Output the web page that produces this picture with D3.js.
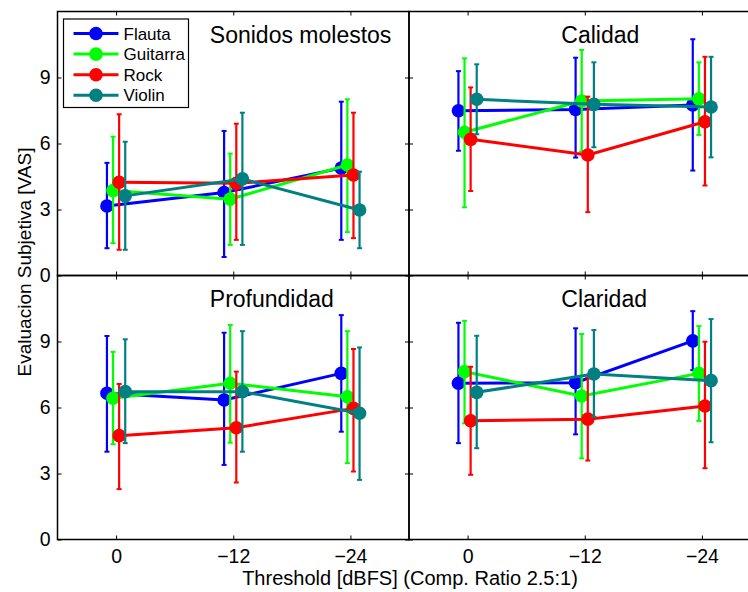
<!DOCTYPE html>
<html>
<head>
<meta charset="utf-8">
<script src="https://cdn.jsdelivr.net/npm/d3@7"></script>
<style>
  body { margin: 0; background: #fff; }
  text { font-family: "Liberation Sans", Arial, sans-serif; fill: #000; }
</style>
</head>
<body>
<div id="chart"></div>
<script>
// categories on the x axis (threshold dBFS)
const categories = ["0", "\u221212", "\u221224"];
const seriesNames = ["Flauta", "Guitarra", "Rock", "Violin"];
const seriesColors = ["#0000ff", "#00ff00", "#ff0000", "#008080"];
const yTicks = [0, 3, 6, 9];

// Sonidos molestos: [Flauta, Guitarra, Rock, Violin] x [0, -12, -24]
const sonidosMean = [[3.16, 3.77, 4.88], [3.86, 3.47, 5.02], [4.24, 4.19, 4.57], [3.62, 4.39, 2.98]];
const sonidosLow  = [[1.24, 0.84, 1.62], [1.47, 1.39, 1.97], [1.17, 1.62, 1.70], [1.17, 1.39, 1.24]];
const sonidosHigh = [[5.12, 6.57, 7.90], [6.31, 5.54, 8.01], [7.33, 6.90, 7.40], [6.08, 7.40, 4.72]];

// Calidad
const calidadMean = [[7.49, 7.55, 7.75], [6.51, 7.93, 8.03], [6.19, 5.48, 6.99], [8.01, 7.78, 7.66]];
const calidadLow  = [[5.67, 5.36, 4.77], [3.10, 5.63, 6.39], [3.84, 2.88, 4.09], [6.42, 5.83, 5.37]];
const calidadHigh = [[9.29, 9.90, 10.74], [9.87, 10.25, 9.69], [8.55, 8.13, 9.94], [9.60, 9.69, 9.94]];

// Profundidad
const profMean = [[6.65, 6.34, 7.55], [6.42, 7.10, 6.49], [4.72, 5.08, 5.96], [6.72, 6.72, 5.74]];
const profLow  = [[3.99, 3.39, 4.90], [4.33, 4.40, 3.47], [2.29, 2.59, 3.09], [4.38, 3.99, 2.71]];
const profHigh = [[9.25, 9.40, 10.20], [8.53, 9.75, 9.47], [7.07, 7.63, 8.66], [9.10, 9.47, 8.73]];

// Claridad
const claridadMean = [[7.10, 7.13, 9.03], [7.63, 6.52, 7.55], [5.40, 5.47, 6.07], [6.69, 7.52, 7.22]];
const claridadLow  = [[4.38, 4.78, 7.70], [5.28, 3.69, 5.39], [2.94, 3.59, 3.24], [4.15, 5.58, 4.42]];
const claridadHigh = [[9.85, 9.60, 10.38], [9.94, 9.34, 9.70], [7.85, 7.37, 8.99], [9.26, 9.52, 10.02]];

const panels = [
    {title: "Sonidos molestos", col: 0, row: 0, mean: sonidosMean, low: sonidosLow, high: sonidosHigh},
    {title: "Calidad", col: 1, row: 0, mean: calidadMean, low: calidadLow, high: calidadHigh},
    {title: "Profundidad", col: 0, row: 1, mean: profMean, low: profLow, high: profHigh},
    {title: "Claridad", col: 1, row: 1, mean: claridadMean, low: claridadLow, high: claridadHigh}
];

const width = 748, height = 592;
const colRanges = [[57.5, 409], [409, 760.5]];
const rowRanges = [[275.5, 11.5], [539.5, 275.5]];
const offsets = [-0.078, -0.026, 0.026, 0.078];

const svg = d3.select("#chart").append("svg")
    .attr("width", width)
    .attr("height", height);

svg.append("rect").attr("width", width).attr("height", height).attr("fill", "#fff");

panels.forEach(p => {
    let x = d3.scaleLinear().domain([-0.5, 2.5]).range(colRanges[p.col]);
    let y = d3.scaleLinear().domain([0, 12]).range(rowRanges[p.row]);
    let g = svg.append("g");
    let idx = d3.range(categories.length);

    // axes with inward ticks on all four sides
    let left = d3.axisLeft(y).tickValues(yTicks).tickSizeInner(-4).tickSizeOuter(0).tickPadding(7);
    if (p.col !== 0) left.tickFormat("");
    g.append("g").attr("class", "axis").attr("transform", `translate(${x.range()[0]},0)`).call(left);

    let right = d3.axisRight(y).tickValues(yTicks).tickSizeInner(-4).tickSizeOuter(0).tickFormat("");
    g.append("g").attr("class", "axis").attr("transform", `translate(${x.range()[1]},0)`).call(right);

    let bottom = d3.axisBottom(x).tickValues(idx).tickSizeInner(-4).tickSizeOuter(0).tickPadding(10)
        .tickFormat(i => categories[i]);
    if (p.row !== 1) bottom.tickFormat("");
    g.append("g").attr("class", "axis").attr("transform", `translate(0,${y.range()[0]})`).call(bottom);

    let top = d3.axisTop(x).tickValues(idx).tickSizeInner(-4).tickSizeOuter(0).tickFormat("");
    g.append("g").attr("class", "axis").attr("transform", `translate(0,${y.range()[1]})`).call(top);

    g.selectAll(".axis .domain").remove();
    g.selectAll(".axis line").attr("stroke", "#000").attr("stroke-width", 1);
    g.selectAll(".axis text").style("font-size", "19.5px").style("font-family", "Liberation Sans, Arial, sans-serif");

    // series: error bars, line, markers
    seriesNames.forEach((name, s) => {
        let pts = idx.map(i => ({
            x: x(i + offsets[s]),
            m: y(p.mean[s][i]),
            lo: y(p.low[s][i]),
            hi: y(p.high[s][i])
        }));
        let sg = g.append("g");
        sg.selectAll(".bar").data(pts).enter().append("line")
            .attr("x1", d => d.x).attr("x2", d => d.x)
            .attr("y1", d => d.lo).attr("y2", d => d.hi)
            .attr("stroke", seriesColors[s]).attr("stroke-width", 2.2);
        sg.selectAll(".capLo").data(pts).enter().append("line")
            .attr("x1", d => d.x - 2.5).attr("x2", d => d.x + 2.5)
            .attr("y1", d => d.lo).attr("y2", d => d.lo)
            .attr("stroke", seriesColors[s]).attr("stroke-width", 2);
        sg.selectAll(".capHi").data(pts).enter().append("line")
            .attr("x1", d => d.x - 2.5).attr("x2", d => d.x + 2.5)
            .attr("y1", d => d.hi).attr("y2", d => d.hi)
            .attr("stroke", seriesColors[s]).attr("stroke-width", 2);
        sg.append("path")
            .datum(pts)
            .attr("fill", "none")
            .attr("stroke", seriesColors[s])
            .attr("stroke-width", 3)
            .attr("d", d3.line().x(d => d.x).y(d => d.m));
        sg.selectAll(".dot").data(pts).enter().append("circle")
            .attr("cx", d => d.x).attr("cy", d => d.m).attr("r", 6.8)
            .attr("fill", seriesColors[s]);
    });

    // panel frame
    g.append("rect")
        .attr("x", x.range()[0]).attr("y", y.range()[1])
        .attr("width", x.range()[1] - x.range()[0])
        .attr("height", y.range()[0] - y.range()[1])
        .attr("fill", "none").attr("stroke", "#000").attr("stroke-width", 1.5);

    // panel title
    g.append("text")
        .attr("x", x(0.8))
        .attr("y", y(10.58))
        .style("font-size", "23px")
        .text(p.title);
});

// legend inside first panel
const legend = svg.append("g").attr("transform", "translate(63.5,19)");
legend.append("rect")
    .attr("width", 125).attr("height", 88.5)
    .attr("fill", "#fff").attr("stroke", "#000").attr("stroke-width", 1.2);
const entries = legend.selectAll(".entry").data(seriesNames).enter().append("g")
    .attr("transform", (d, i) => `translate(0,${14.5 + i * 20.6})`);
entries.append("line")
    .attr("x1", 10).attr("x2", 55)
    .attr("stroke", (d, i) => seriesColors[i]).attr("stroke-width", 3);
entries.append("circle")
    .attr("cx", 32.5).attr("r", 6.8)
    .attr("fill", (d, i) => seriesColors[i]);
entries.append("text")
    .attr("x", 60).attr("dy", "0.36em")
    .style("font-size", "17px")
    .text(d => d);

// axis titles
svg.append("text")
    .attr("x", 410).attr("y", 585)
    .attr("text-anchor", "middle")
    .style("font-size", "20px")
    .text("Threshold [dBFS] (Comp. Ratio 2.5:1)");

svg.append("text")
    .attr("transform", "translate(31,262) rotate(-90)")
    .attr("text-anchor", "middle")
    .style("font-size", "19px")
    .text("Evaluacion Subjetiva [VAS]");
</script>
</body>
</html>
